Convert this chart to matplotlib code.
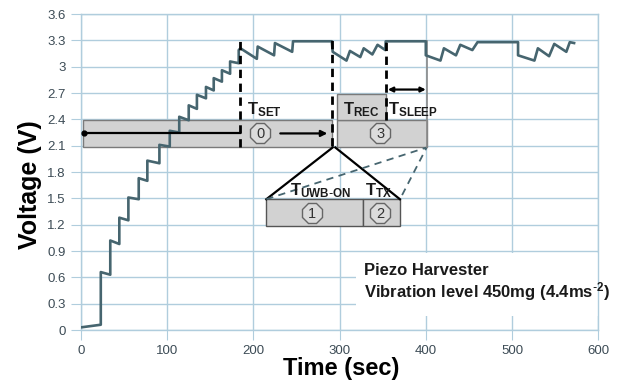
import matplotlib.pyplot as plt
from matplotlib.patches import Rectangle

plt.rcParams['font.family'] = ['Liberation Sans', 'DejaVu Sans']
plt.rcParams['mathtext.default'] = 'regular'

# storage capacitor voltage
time_s = [0, 23, 23, 34, 34, 44.5, 44.5, 55, 55, 67, 67, 77, 77, 91, 91, 103,
          103, 114, 114, 125, 125, 134.5, 134.5, 145, 145, 154, 154, 163.5,
          163.5, 173, 173, 183, 183, 185, 204, 205, 224, 225, 245, 246, 291,
          292, 308, 312, 324, 328, 338, 344, 353, 353.5, 400, 400, 417, 421,
          435, 440, 454, 460, 507, 507, 526, 530, 543, 549, 563, 567, 572]
voltage_v = [0.03, 0.06, 0.66, 0.63, 1.02, 0.98, 1.28, 1.25, 1.51, 1.49, 1.73,
             1.70, 1.93, 1.90, 2.11, 2.09, 2.27, 2.25, 2.43, 2.39, 2.56, 2.52,
             2.68, 2.64, 2.77, 2.73, 2.87, 2.83, 2.96, 2.92, 3.06, 3.04, 3.19,
             3.21, 3.09, 3.23, 3.13, 3.27, 3.17, 3.29, 3.29, 3.17, 3.07, 3.18,
             3.11, 3.21, 3.14, 3.25, 3.19, 3.29, 3.29, 3.13, 3.07, 3.21, 3.13,
             3.25, 3.19, 3.28, 3.28, 3.13, 3.07, 3.21, 3.12, 3.26, 3.17, 3.28,
             3.27]

x_ticks = [0, 100, 200, 300, 400, 500, 600]
y_ticks = [0, 0.3, 0.6, 0.9, 1.2, 1.5, 1.8, 2.1, 2.4, 2.7, 3.0, 3.3, 3.6]
y_tick_labels = ['0', '0.3', '0.6', '0.9', '1.2', '1.5', '1.8', '2.1', '2.4',
                 '2.7', '3', '3.3', '3.6']

# phase timing (sec)
t_set = 185
t_tx_end = 291.5
t_rec_end = 353.5
t_sleep_end = 400

grid_c = '#b0cddd'
line_c = '#46656f'
box_fc = '#d2d2d2'
box_ec = '#7a7a7a'

fig = plt.figure(figsize=(6.18, 3.91), dpi=100)
ax = fig.add_axes([0.131, 0.156, 0.837, 0.808])

ax.set_xlim(0, 600)
ax.set_ylim(0, 3.6)
ax.set_xticks(x_ticks)
ax.set_yticks(y_ticks)
ax.set_yticklabels(y_tick_labels)
ax.grid(True, color=grid_c, lw=1, zorder=0)
ax.set_axisbelow(True)
for s in ax.spines.values():
    s.set_color(grid_c)
    s.set_linewidth(1)
ax.tick_params(length=7, color=grid_c, labelsize=9.5, labelcolor='#3c4b55', pad=4)

ax.set_xlabel('Time (sec)', fontsize=17, fontweight='bold')
ax.xaxis.set_label_coords(0.503, -0.085)
ax.set_ylabel('Voltage (V)', fontsize=18, fontweight='bold')
ax.yaxis.set_label_coords(-0.075, 0.46)

# white box behind the legend text
ax.add_patch(Rectangle((319, 0.16), 281, 0.72, fc='white', ec='none', zorder=1))

# phase bars
ax.add_patch(Rectangle((2, 2.09), t_tx_end - 2, 0.30, fc=box_fc, ec=box_ec, lw=1, zorder=2))
ax.add_patch(Rectangle((297, 2.09), t_sleep_end + 1 - 297, 0.30, fc=box_fc, ec=box_ec, lw=1, zorder=2))
ax.add_patch(Rectangle((297, 2.39), t_rec_end - 297, 0.30, fc=box_fc, ec=box_ec, lw=1, zorder=2))
ax.add_patch(Rectangle((215, 1.18), 112.5, 0.31, fc=box_fc, ec='#555555', lw=1, zorder=2))
ax.add_patch(Rectangle((327.5, 1.18), 42.5, 0.31, fc=box_fc, ec='#555555', lw=1, zorder=2))

# zoom lines from the TX instant to the expanded view
ax.plot([292, 215], [2.08, 1.49], color='black', lw=1.6, zorder=3)
ax.plot([295, 370], [2.08, 1.49], color='black', lw=1.6, zorder=3)
ax.plot([215, 401, 370], [1.49, 2.08, 1.49], color=line_c, lw=1.3,
        ls=(0, (4, 3)), zorder=3)

# waveform
ax.plot(time_s, voltage_v, color=line_c, lw=1.9, zorder=4)

# dashed phase markers
for t, lo in [(t_set, 2.09), (t_tx_end, 2.1), (t_rec_end, 2.39)]:
    ax.plot([t, t], [lo, 3.33], color='black', lw=2, ls=(0, (3, 2)), zorder=5)
ax.plot([t_sleep_end + 1] * 2, [2.09, 3.29], color='#8a8a8a', lw=1.2, zorder=3)

# T_SET line and arrows
ax.plot([3, t_set], [2.25, 2.25], color='black', lw=1.6, marker='o',
        markevery=[0], ms=3.5, zorder=5)
ax.annotate('', xy=(289, 2.24), xytext=(228, 2.24), zorder=5,
            arrowprops=dict(arrowstyle='-|>', color='black', lw=1.6,
                            mutation_scale=9))
ax.annotate('', xy=(400, 2.74), xytext=(356, 2.74), zorder=5,
            arrowprops=dict(arrowstyle='<|-|>', color='black', lw=1.6,
                            mutation_scale=7, shrinkA=0, shrinkB=0))

# numbered phase markers
for t, v, n in [(208, 2.24, '0'), (347, 2.24, '3'), (268, 1.33, '1'), (347, 1.33, '2')]:
    ax.plot(t, v, marker='8', ms=15, mfc='#dcdcdc', mec='#666666', mew=1, zorder=6)
    ax.text(t, v - 0.01, n, ha='center', va='center', fontsize=10.5, color='#333333', zorder=7)

lab = dict(fontsize=12, fontweight='bold', color='#1a1a1a', zorder=7)
ax.text(193, 2.46, r'T$_{SET}$', ha='left', va='baseline', **lab)
ax.text(325, 2.46, r'T$_{REC}$', ha='center', va='baseline', **lab)
ax.text(356, 2.46, r'T$_{SLEEP}$', ha='left', va='baseline', **lab)
ax.text(243, 1.53, r'T$_{UWB\text{-}ON}$', ha='left', va='baseline', **lab)
ax.text(330, 1.53, r'T$_{TX}$', ha='left', va='baseline', **lab)

ax.text(328, 0.63, 'Piezo Harvester', fontsize=12, fontweight='bold', color='#1a1a1a', zorder=7)
ax.text(328, 0.37, r'Vibration level 450mg (4.4ms$^{\text{-}2}$)', fontsize=12,
        fontweight='bold', color='#1a1a1a', zorder=7)

fig.savefig('out.png', dpi=100)
